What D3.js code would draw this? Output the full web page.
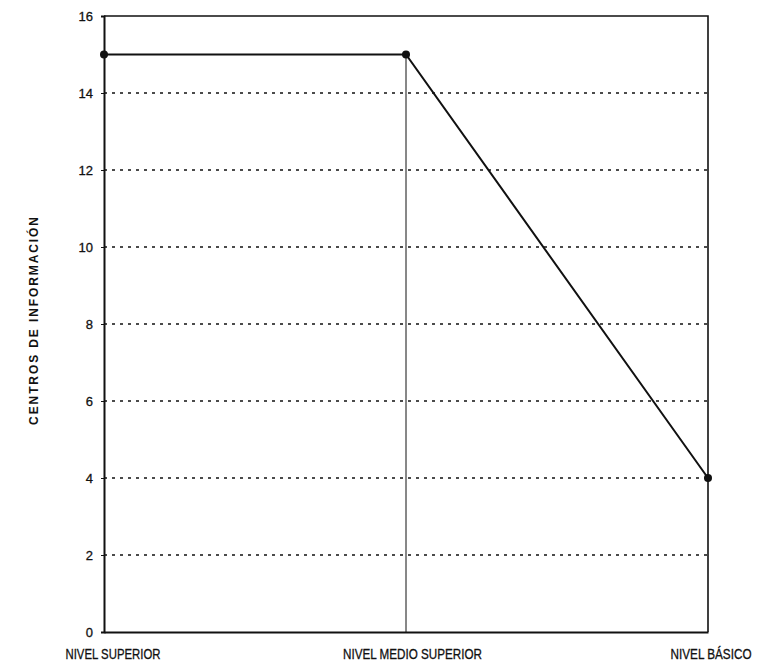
<!DOCTYPE html>
<html>
<head>
<meta charset="utf-8">
<script src="https://cdn.jsdelivr.net/npm/d3@7"></script>
<style>
body{margin:0;background:#fff}
svg text{fill:#111}
</style>
</head>
<body>
<div id="w"></div>
<script>
// datos
var categorias = ["NIVEL SUPERIOR", "NIVEL MEDIO SUPERIOR", "NIVEL BÁSICO"]
var centros = [15, 15, 4]
var ticksY = [0, 2, 4, 6, 8, 10, 12, 14, 16]
var anchoEtiq = [95, 139, 81]

var W = 758, H = 665
var m = {l:104, r:50, t:16, b:33}

var svg = d3.select("#w").append("svg")
  .attr("width", W)
  .attr("height", H)

var x = d3.scalePoint().domain(categorias).range([m.l, W - m.r])
var y = d3.scaleLinear().domain([0, 16]).range([H - m.b, m.t])

// lineas de rejilla punteadas
svg.append("g").selectAll("line")
  .data(ticksY.filter(function(d){ return d > 0 && d < 16 }))
  .enter().append("line")
  .attr("x1", m.l).attr("x2", W - m.r)
  .attr("y1", function(d){ return y(d) }).attr("y2", function(d){ return y(d) })
  .attr("stroke", "#111")
  .attr("stroke-width", 1.6)
  .attr("stroke-dasharray", "3,5")

// marco superior y derecho
svg.append("path")
  .attr("d", "M" + m.l + "," + y(16) + "H" + (W - m.r) + "V" + y(0))
  .attr("fill", "none").attr("stroke", "#111").attr("stroke-width", 1.6)

// eje y
var ay = svg.append("g")
  .attr("transform", "translate(" + m.l + ",0)")
  .call(d3.axisLeft(y).tickValues(ticksY).tickSize(3).tickPadding(8))
ay.select(".domain").attr("stroke", "#111").attr("stroke-width", 2)
ay.selectAll(".tick line").attr("stroke", "#111")
ay.selectAll("text")
  .style("font-family", "'Liberation Sans Narrow', 'Arial Narrow', sans-serif")
  .style("font-size", "13px")
  .attr("fill", "#111")
  .attr("stroke", "#111").attr("stroke-width", 0.3)

// eje x
var ax = svg.append("g")
  .attr("transform", "translate(0," + y(0) + ")")
  .call(d3.axisBottom(x).tickSize(0).tickPadding(17))
ax.select(".domain").attr("stroke", "#111").attr("stroke-width", 2)
var desp = [-39, 43, 6]
ax.selectAll("text")
  .style("font-family", "'Liberation Sans Narrow', 'Arial Narrow', sans-serif")
  .style("font-size", "14px")
  .attr("fill", "#111")
  .attr("stroke", "#111").attr("stroke-width", 0.3)
  .attr("text-anchor", function(d, i){ return i == 0 ? "start" : i == 2 ? "end" : "middle" })
  .each(function(d, i){
    // texto estrecho: se comprime en horizontal
    var k = anchoEtiq[i] / this.getComputedTextLength()
    var dx = i == 0 ? -39 : i == 2 ? 43 : 6
    d3.select(this)
      .attr("x", dx / k)
      .attr("transform", "scale(" + k + ",1)")
  })

// linea vertical desde el punto medio
svg.append("line")
  .attr("x1", x(categorias[1])).attr("x2", x(categorias[1]))
  .attr("y1", y(centros[1])).attr("y2", y(0))
  .attr("stroke", "#111").attr("stroke-width", 1)

// serie
var line = d3.line()
  .x(function(d, i){ return x(categorias[i]) })
  .y(function(d){ return y(d) })

svg.append("path")
  .datum(centros)
  .attr("d", line)
  .attr("fill", "none")
  .attr("stroke", "#111")
  .attr("stroke-width", 2)

svg.append("g").selectAll("circle")
  .data(centros)
  .enter().append("circle")
  .attr("cx", function(d, i){ return x(categorias[i]) })
  .attr("cy", function(d){ return y(d) })
  .attr("r", 4)
  .attr("fill", "#111")

// titulo eje y
svg.append("text")
  .attr("transform", "translate(38,320) rotate(-90)")
  .attr("text-anchor", "middle")
  .style("font-family", "'Liberation Sans', Arial, sans-serif")
  .style("font-weight", "bold")
  .style("font-size", "12px")
  .style("letter-spacing", "1.9px")
  .text("CENTROS DE INFORMACIÓN")
</script>
</body>
</html>
